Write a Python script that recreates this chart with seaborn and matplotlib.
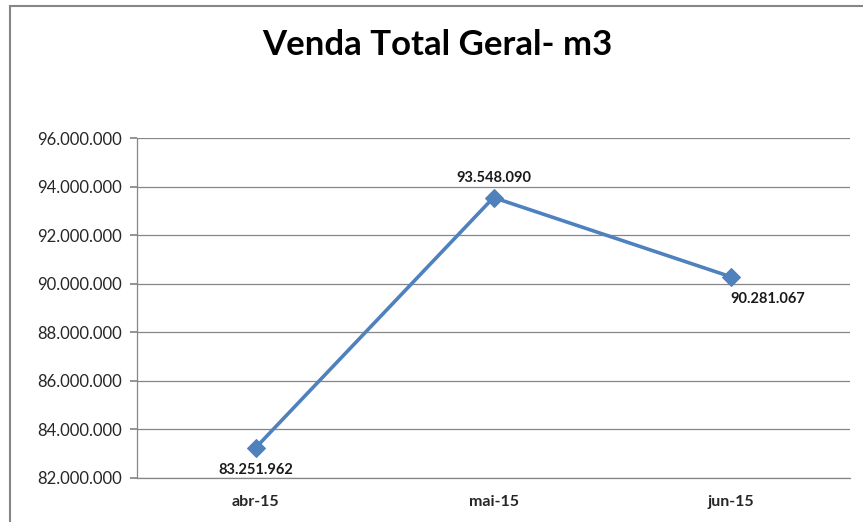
"""Venda Total Geral - line chart, Excel style."""
import matplotlib
matplotlib.use("Agg")
import matplotlib.pyplot as plt
import matplotlib.ticker as mticker
from matplotlib.patches import Rectangle
import pandas as pd
import seaborn as sns

MONTHS = ["abr-15", "mai-15", "jun-15"]
VOLUME = [83251962, 93548090, 90281067]
LABEL_OFFSETS = [(0, -16), (0, 14), (26, -16)]

LINE_COLOR = "#4F81BD"
GRID_COLOR = "#868686"


def br_fmt(v, _pos=None):
    return f"{int(round(v)):,}".replace(",", ".")


sns.set_theme(style="white")
plt.rcParams["font.family"] = ["Lato", "DejaVu Sans"]

df = pd.DataFrame({"mes": MONTHS, "volume": VOLUME})
df["x"] = range(len(df))

fig = plt.figure(figsize=(8.63, 5.22), dpi=100)
ax = fig.add_axes([137 / 863, 44 / 522, 713 / 863, 340 / 522])

sns.lineplot(data=df, x="x", y="volume", color=LINE_COLOR, linewidth=2.6,
             marker="D", markersize=9, markeredgecolor=LINE_COLOR, ax=ax)

for x, v, (dx, dy) in zip(df["x"], df["volume"], LABEL_OFFSETS):
    ax.annotate(br_fmt(v), (x, v), xytext=(dx, dy), textcoords="offset points",
                ha="center", va="center", fontsize=10.5, fontweight="bold",
                color="#1a1a1a")

ax.set_xlim(-0.5, len(MONTHS) - 0.5)
ax.set_ylim(82_000_000, 96_000_000)
ax.yaxis.set_major_locator(mticker.MultipleLocator(2_000_000))
ax.yaxis.set_major_formatter(mticker.FuncFormatter(br_fmt))
ax.set_xticks(range(len(MONTHS)))
ax.set_xticklabels(MONTHS, fontweight="bold", fontsize=11.5)
ax.set_xticks([i + 0.5 for i in range(-1, len(MONTHS))], minor=True)
ax.tick_params(axis="x", which="major", length=0, pad=12)
ax.tick_params(axis="x", which="minor", length=5, color=GRID_COLOR, direction="out")
ax.tick_params(axis="y", length=5, color=GRID_COLOR, direction="out",
               labelsize=12, pad=6, left=True)
ax.grid(axis="y", color=GRID_COLOR, linewidth=0.9)
ax.set_axisbelow(True)
for side in ("top", "right"):
    ax.spines[side].set_visible(False)
for side in ("left", "bottom"):
    ax.spines[side].set_color(GRID_COLOR)
    ax.spines[side].set_linewidth(0.9)
ax.set_xlabel("")
ax.set_ylabel("")

fig.text(437 / 863, 1 - 45 / 522, "Venda Total Geral- m3", ha="center", va="center",
         fontsize=25, fontweight="bold", color="black")

fig.patches.append(Rectangle((10 / 863, -0.05), 1.0, 1 - 6 / 522 + 0.05,
                             transform=fig.transFigure, fill=False,
                             edgecolor=GRID_COLOR, linewidth=1.5))

fig.savefig("out.png", dpi=100)
